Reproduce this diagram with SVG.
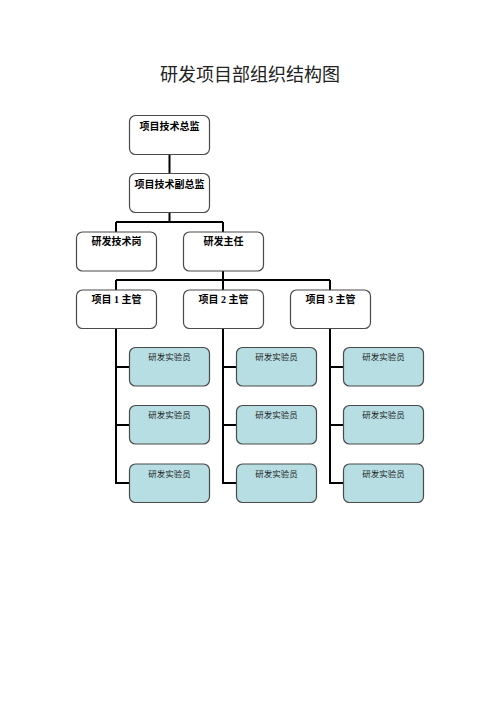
<svg xmlns="http://www.w3.org/2000/svg" width="500" height="707" viewBox="0 0 500 707">
<style>
.bg{fill:#ffffff}
.box{fill:#ffffff;stroke:#4a4a4a;stroke-width:1.2}
.tbox{fill:#b7dee3;stroke:#4a4a4a;stroke-width:1.2}
.lbl{font-family:"Liberation Serif","Noto Sans CJK SC",serif;font-size:10px;font-weight:bold;fill:#000;text-anchor:middle}
.sl{font-family:"Liberation Serif","Noto Sans CJK SC",serif;font-size:8.5px;fill:#222;text-anchor:middle}
.title{font-family:"Noto Sans CJK SC",sans-serif;font-size:18px;fill:#222;text-anchor:middle}
.con{fill:none;stroke:#000;stroke-width:2}
</style>
<rect class="bg" x="0" y="0" width="500" height="707"/>
<text class="title" x="250" y="81">研发项目部组织结构图</text>
<g id="connectors">
<path class="con" d="M169.5,155 V173"/>
<path class="con" d="M169.5,213 V222 M116,222 H223 M116,222 V232 M223,222 V232"/>
<path class="con" d="M223,271 V280 M116,280 H330 M116,280 V290 M223,280 V290 M330,280 V290"/>
<path class="con" d="M116,328 V484 M116,367 H129 M116,425 H129 M116,483 H129"/>
<path class="con" d="M223,328 V484 M223,367 H236 M223,425 H236 M223,483 H236"/>
<path class="con" d="M330,328 V484 M330,367 H343 M330,425 H343 M330,483 H343"/>
</g>
<g id="n1"><rect class="box" x="129.5" y="115.5" width="80" height="39" rx="6"/><text class="lbl" x="169.5" y="129.5">项目技术总监</text></g>
<g id="n2"><rect class="box" x="129.5" y="173.5" width="80" height="39" rx="6"/><text class="lbl" x="169.5" y="187.5">项目技术副总监</text></g>
<g id="n3"><rect class="box" x="76.5" y="232" width="80" height="39" rx="6"/><text class="lbl" x="116.5" y="245">研发技术岗</text></g>
<g id="n4"><rect class="box" x="183.5" y="232" width="80" height="39" rx="6"/><text class="lbl" x="223.5" y="245">研发主任</text></g>
<g id="n5"><rect class="box" x="76.5" y="290" width="80" height="38.5" rx="6"/><text class="lbl" x="116.5" y="303">项目 1 主管</text></g>
<g id="n6"><rect class="box" x="183.5" y="290" width="80" height="38.5" rx="6"/><text class="lbl" x="223.5" y="303">项目 2 主管</text></g>
<g id="n7"><rect class="box" x="290.5" y="290" width="80" height="38.5" rx="6"/><text class="lbl" x="330.5" y="303">项目 3 主管</text></g>
<g id="r11"><rect class="tbox" x="129.5" y="347.5" width="80" height="38.5" rx="6"/><text class="sl" x="169.5" y="360">研发实验员</text></g>
<g id="r12"><rect class="tbox" x="129.5" y="405.5" width="80" height="38.5" rx="6"/><text class="sl" x="169.5" y="418">研发实验员</text></g>
<g id="r13"><rect class="tbox" x="129.5" y="464" width="80" height="38.5" rx="6"/><text class="sl" x="169.5" y="476.5">研发实验员</text></g>
<g id="r21"><rect class="tbox" x="236.5" y="347.5" width="80" height="38.5" rx="6"/><text class="sl" x="276.5" y="360">研发实验员</text></g>
<g id="r22"><rect class="tbox" x="236.5" y="405.5" width="80" height="38.5" rx="6"/><text class="sl" x="276.5" y="418">研发实验员</text></g>
<g id="r23"><rect class="tbox" x="236.5" y="464" width="80" height="38.5" rx="6"/><text class="sl" x="276.5" y="476.5">研发实验员</text></g>
<g id="r31"><rect class="tbox" x="343.5" y="347.5" width="80" height="38.5" rx="6"/><text class="sl" x="383.5" y="360">研发实验员</text></g>
<g id="r32"><rect class="tbox" x="343.5" y="405.5" width="80" height="38.5" rx="6"/><text class="sl" x="383.5" y="418">研发实验员</text></g>
<g id="r33"><rect class="tbox" x="343.5" y="464" width="80" height="38.5" rx="6"/><text class="sl" x="383.5" y="476.5">研发实验员</text></g>
</svg>
